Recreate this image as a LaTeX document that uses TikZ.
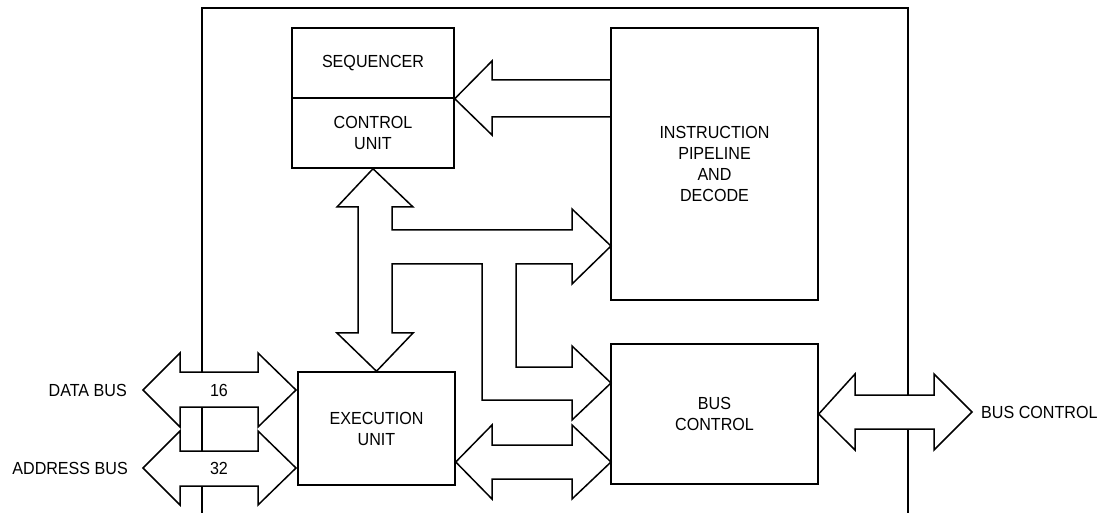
\documentclass[tikz,border=0pt]{standalone}
\usepackage{fontspec}
\setmainfont[FakeStretch=0.92]{Liberation Sans}
\usetikzlibrary{backgrounds}
\newcommand{\lblfont}{\fontsize{17.5}{21}\selectfont}
\begin{document}
\begin{tikzpicture}[x=1pt,y=-1pt,line join=miter,
  box/.style={draw,line width=1.5pt,align=center,inner sep=0pt,font=\lblfont},
  fat/.style={draw,fill=white,line width=1.5pt},
  frame/.style={draw,line width=1.5pt},
  lbl/.style={inner sep=0pt,font=\lblfont}]
\useasboundingbox (0,0) rectangle (1104,513);
% boxes
\node[box,minimum width=162pt,minimum height=70pt] (seq) at (373,63) {SEQUENCER};
\node[box,minimum width=162pt,minimum height=70pt] (ctrl) at (373,133) {CONTROL\\UNIT};
\node[box,minimum width=207pt,minimum height=272pt] (ipd) at (714.5,164) {INSTRUCTION\\PIPELINE\\AND\\DECODE};
\node[box,minimum width=157pt,minimum height=113pt] (exe) at (376.5,428.5) {EXECUTION\\UNIT};
\node[box,minimum width=207pt,minimum height=140pt] (busc) at (714.5,414) {BUS\\CONTROL};
% labels
\node[lbl,anchor=east] (ldata) at (127,390) {DATA BUS};
\node[lbl,anchor=east] (laddr) at (128,468) {ADDRESS BUS};
\node[lbl] (n16) at (219,390) {16};
\node[lbl] (n32) at (219,468) {32};
\node[lbl,anchor=west] (lbc) at (981,412) {BUS CONTROL};
\begin{pgfonlayer}{background}
% outer frame (open at the bottom)
\draw[frame] (202,513) coordinate (fbl) -- (202,8) -- (908,8) -- (908,513) coordinate (fbr);
% instruction pipeline -> sequencer/control
\filldraw[fat] (611,80) -- (492,80) -- (492,61) -- (seq.south east) -- (492,135) -- (492,117) -- (611,117);
% data bus
\filldraw[fat] (143,390) -- (180,353) -- (180,372) -- (258,372) -- (258,353) -- (296,390)
  -- (258,427) -- (258,407) -- (180,407) -- (180,427) -- cycle;
% address bus
\filldraw[fat] (143,468) -- (180,431) -- (180,451) -- (258,451) -- (258,431) -- (296,468)
  -- (258,505) -- (258,486) -- (180,486) -- (180,505) -- cycle;
% external bus control
\filldraw[fat] (busc.east) -- (855,374) -- (855,395) -- (934,395) -- (934,374) -- (972,412)
  -- (934,450) -- (934,429) -- (855,429) -- (855,450) -- cycle;
% execution unit <-> bus control
\filldraw[fat] (exe.east |- 0,462) -- (492,425) -- (492,445) -- (572,445) -- (572,425) -- (611,462)
  -- (572,499) -- (572,479) -- (492,479) -- (492,499) -- cycle;
% internal bus: control unit <-> execution unit, branches to pipeline and bus control
\filldraw[fat] (ctrl.south) -- (413,207) -- (392,207) -- (392,230) -- (572,230) -- (572,209)
  -- (611,246) -- (572,284) -- (572,264) -- (516,264) -- (516,367) -- (572,367) -- (572,346)
  -- (611,383) -- (572,420) -- (572,400) -- (482,400) -- (482,264) -- (392,264) -- (392,333)
  -- (413,333) -- (exe.north) -- (337,333) -- (358,333) -- (358,207) -- (337,207) -- cycle;
\end{pgfonlayer}
\end{tikzpicture}
\end{document}
